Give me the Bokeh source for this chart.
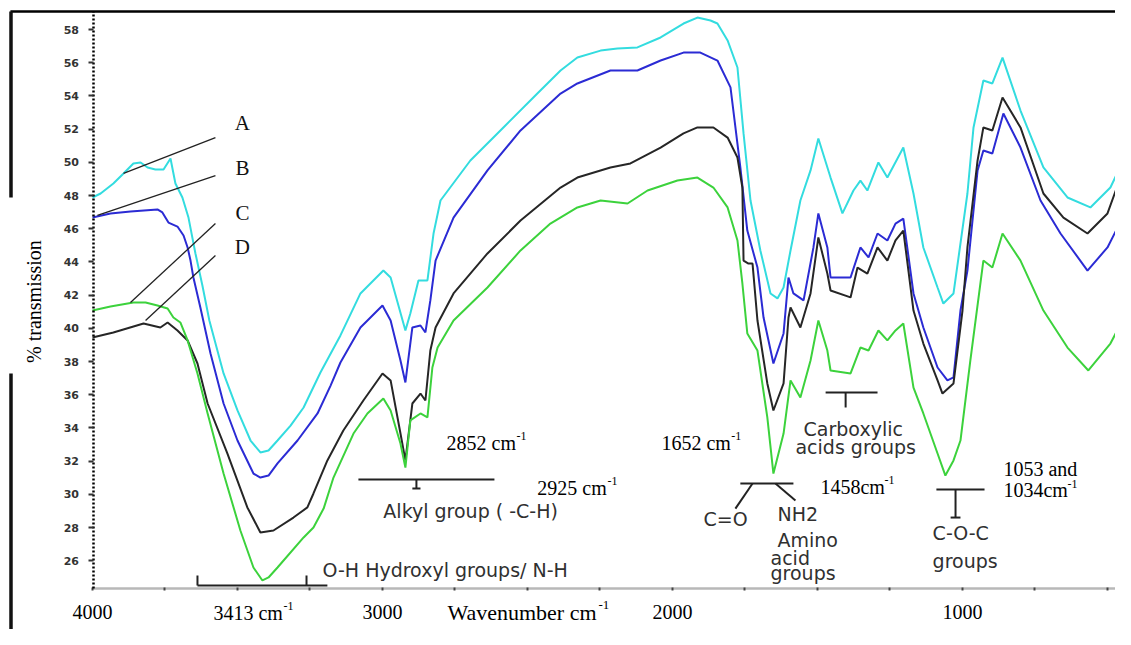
from bokeh.plotting import figure
from bokeh.models import Range1d, LinearAxis, FixedTicker
from bokeh.core.properties import value
from bokeh.embed import file_html
from bokeh.resources import INLINE

# ---------------- data (wavenumber cm-1, % transmission) ----------------
wn_A = [4000, 3972, 3928, 3893, 3859, 3834, 3810, 3783, 3755, 3731, 3714, 3690, 3669, 3645, 3621, 3597,
        3548, 3500, 3455, 3421, 3393, 3362, 3317, 3272, 3214, 3145, 3076, 2997, 2972, 2945, 2921, 2904,
        2876, 2845, 2824, 2800, 2697, 2583, 2466, 2386, 2328, 2248, 2190, 2121, 2041, 1962, 1914, 1869,
        1845, 1810, 1776, 1755, 1731, 1697, 1662, 1638, 1617, 1593, 1559, 1524, 1497, 1455, 1414, 1376,
        1352, 1328, 1290, 1259, 1204, 1169, 1135, 1086, 1066, 1031, 983, 962, 928, 897, 862, 800, 721,
        638, 559, 490, 418]
T_A = [47.88, 48.12, 48.72, 49.33, 49.93, 49.99, 49.69, 49.57, 49.57, 50.23, 48.72, 47.88, 46.67, 44.51,
       42.58, 40.47, 37.28, 35.05, 33.24, 32.52, 32.64, 33.24, 34.14, 35.23, 37.34, 39.57, 42.10, 43.48,
       43.06, 41.37, 39.87, 40.89, 42.88, 42.88, 45.71, 47.70, 50.11, 52.10, 54.14, 55.53, 56.31, 56.73,
       56.86, 56.92, 57.52, 58.36, 58.72, 58.54, 58.36, 57.34, 55.71, 51.74, 47.70, 44.69, 42.10, 41.80,
       42.46, 44.69, 47.70, 49.51, 51.43, 49.08, 46.92, 48.30, 48.90, 48.30, 49.99, 49.08, 50.89, 48.12,
       44.87, 42.46, 41.49, 42.10, 48.12, 52.10, 54.93, 54.75, 56.31, 53.12, 49.69, 47.88, 47.28, 48.48,
       51.13]

wn_B = [4000, 3938, 3869, 3776, 3759, 3738, 3707, 3686, 3672, 3662, 3652, 3628, 3593, 3548, 3500, 3445,
        3421, 3393, 3362, 3293, 3224, 3179, 3145, 3076, 3000, 2972, 2938, 2921, 2897, 2869, 2852, 2835,
        2817, 2755, 2638, 2524, 2386, 2328, 2214, 2121, 2041, 1962, 1904, 1845, 1800, 1766, 1742, 1707,
        1686, 1652, 1617, 1600, 1583, 1548, 1514, 1497, 1466, 1455, 1386, 1352, 1324, 1293, 1259, 1231,
        1204, 1169, 1135, 1086, 1052, 1031, 1007, 983, 948, 928, 897, 859, 800, 731, 662, 569, 500, 418]
T_B = [46.67, 46.92, 47.04, 47.16, 46.98, 46.37, 46.13, 45.59, 44.87, 44.08, 43.06, 41.25, 38.48, 35.47,
       33.24, 31.25, 31.01, 31.13, 31.86, 33.24, 34.87, 36.55, 37.94, 40.05, 41.37, 40.47, 38.06, 36.74,
       40.05, 40.17, 39.75, 41.68, 44.08, 46.67, 49.51, 51.92, 54.14, 54.75, 55.53, 55.53, 56.13, 56.61,
       56.61, 56.13, 54.51, 49.69, 45.89, 43.66, 40.65, 37.88, 39.69, 43.06, 42.10, 41.68, 44.87, 46.92,
       44.87, 43.06, 43.06, 44.87, 44.27, 45.71, 45.29, 46.31, 46.61, 42.10, 40.05, 37.64, 36.86, 37.04,
       41.07, 43.48, 49.51, 50.71, 50.53, 52.94, 50.89, 47.70, 45.71, 43.48, 44.87, 47.70]

wn_C = [4000, 3938, 3859, 3817, 3776, 3741, 3721, 3697, 3672, 3638, 3603, 3548, 3490, 3445, 3414, 3393,
        3362, 3272, 3238, 3203, 3169, 3100, 3052, 2997, 2972, 2938, 2921, 2904, 2869, 2845, 2828, 2810,
        2755, 2638, 2524, 2421, 2328, 2248, 2155, 2086, 1983, 1914, 1859, 1810, 1776, 1759, 1742, 1707,
        1673, 1652, 1617, 1593, 1559, 1524, 1497, 1466, 1455, 1386, 1352, 1324, 1290, 1259, 1231, 1204,
        1169, 1135, 1086, 1059, 1031, 1007, 973, 928, 897, 862, 800, 721, 638, 566, 490, 418]
T_C = [41.07, 41.31, 41.55, 41.55, 41.37, 41.19, 40.65, 40.35, 39.27, 37.28, 34.87, 31.25, 27.82, 25.59,
       24.81, 24.99, 25.59, 27.40, 28.00, 29.14, 31.01, 33.66, 34.87, 35.77, 35.05, 33.06, 31.61, 34.45,
       34.87, 34.63, 37.64, 38.84, 40.47, 42.46, 44.69, 46.31, 47.28, 47.70, 47.52, 48.30, 48.90, 49.08,
       48.48, 47.28, 45.29, 42.70, 39.69, 38.66, 34.63, 31.25, 33.66, 36.86, 35.83, 38.06, 40.47, 38.66,
       37.46, 37.28, 38.84, 38.66, 39.87, 39.27, 39.87, 40.29, 36.43, 34.87, 32.46, 31.13, 32.04, 33.24,
       38.06, 44.08, 43.66, 45.71, 44.08, 41.07, 38.84, 37.46, 39.08, 41.49]

wn_D = [4000, 3928, 3824, 3766, 3741, 3707, 3672, 3638, 3603, 3535, 3466, 3421, 3376, 3307, 3259, 3238,
        3190, 3135, 3066, 3000, 2972, 2938, 2921, 2897, 2869, 2852, 2835, 2817, 2755, 2638, 2524, 2386,
        2328, 2214, 2145, 2041, 1962, 1914, 1859, 1810, 1776, 1759, 1755, 1738, 1724, 1707, 1673, 1652,
        1617, 1600, 1593, 1559, 1524, 1497, 1466, 1455, 1386, 1362, 1328, 1293, 1259, 1231, 1204, 1169,
        1135, 1086, 1069, 1031, 1000, 983, 948, 928, 897, 862, 800, 721, 652, 569, 500, 418]
T_D = [39.45, 39.75, 40.29, 40.05, 40.35, 39.87, 39.27, 37.88, 35.47, 32.46, 29.21, 27.70, 27.82, 28.60,
       29.21, 30.05, 32.04, 33.84, 35.65, 37.28, 36.86, 33.66, 32.04, 35.47, 36.07, 35.65, 38.66, 40.05,
       42.10, 44.51, 46.49, 48.48, 49.08, 49.69, 49.93, 50.89, 51.74, 52.10, 52.10, 51.49, 50.29, 48.48,
       44.08, 43.90, 43.90, 40.47, 36.68, 35.05, 36.68, 40.65, 41.25, 40.05, 42.10, 45.47, 43.30, 42.28,
       41.86, 43.66, 43.30, 44.87, 44.08, 45.29, 45.89, 41.07, 39.08, 36.86, 36.07, 36.68, 41.07, 44.87,
       50.11, 52.10, 51.92, 53.90, 52.10, 48.12, 46.67, 45.71, 46.92, 50.90]

series_colors = ["#33dcdf", "#2b2bd4", "#262626", "#3cd23c"]

y_ticks = [26, 28, 30, 32, 34, 36, 38, 40, 42, 44, 46, 48, 50, 52, 54, 56, 58]
x_ticks = [4000, 3000, 2000, 1000]
x_minor = [3750, 3500, 3250, 2750, 2500, 2250, 1750, 1500, 1250, 750, 500]

# letter labels and their leader lines
letters = ["A", "B", "C", "D"]
letter_x = [3483, 3483, 3483, 3483]
letter_y = [52.34, 49.63, 46.92, 44.87]
lead_x0 = [3893, 3983, 3869, 3817]
lead_y0 = [49.33, 46.80, 41.55, 40.47]
lead_x1 = [3576, 3576, 3576, 3576]
lead_y1 = [51.49, 49.20, 46.31, 44.39]

# Times-style annotations (main text + superscript)
serif_text = ["2852 cm", "2925 cm", "1652 cm", "1458cm", "1053 and", "1034cm", "3413 cm"]
serif_x = [2779, 2466, 2038, 1490, 859, 859, 3583]
serif_y = [33.12, 30.41, 33.12, 30.47, 31.55, 30.23, 22.88]
sup_text = ["-1", "-1", "-1", "-1", "-1", "-1"]
sup_x = [2538, 2224, 1797, 1269, 638, 3341]
sup_y = [33.54, 30.83, 33.54, 30.89, 30.65, 23.30]

# sans (scanned) annotations
sans_text = ["O-H Hydroxyl groups/ N-H", "Alkyl group ( -C-H)", "C=O", "NH2", "Amino", "acid", "groups",
             "Carboxylic", "acids groups", "C-O-C", "groups"]
sans_x = [3207, 2997, 1893, 1638, 1638, 1662, 1662, 1548, 1576, 1103, 1103]
sans_y = [25.47, 29.02, 28.54, 28.84, 27.22, 26.19, 25.23, 33.96, 32.82, 27.64, 26.01]

# bracket segments
br_x0 = [3638, 3638, 3262, 3083, 2883, 2897, 1766, 1724, 1645, 1472, 1403, 1090, 1024, 1041]
br_y0 = [24.51, 25.11, 25.11, 30.89, 30.89, 30.35, 30.65, 30.65, 30.65, 36.13, 36.13, 30.29, 30.29, 28.60]
br_x1 = [3190, 3638, 3262, 2614, 2883, 2869, 1583, 1783, 1576, 1293, 1403, 924, 1024, 1007]
br_y1 = [24.51, 24.51, 24.51, 30.89, 30.35, 30.35, 30.65, 29.14, 29.63, 36.13, 35.23, 30.29, 28.60, 28.60]

# ---------------- figure ----------------
p = figure(width=1115, height=629, output_backend="svg", toolbar_location=None,
           x_range=Range1d(4317.2, 472.4), y_range=Range1d(21.856, 59.747),
           x_axis_location=None, y_axis_location=None, min_border=0)
p.outline_line_color = None
p.xgrid.visible = False
p.ygrid.visible = False
p.background_fill_color = "white"
p.border_fill_color = "white"

# frame pieces of the scanned figure
p.segment(x0=[4283], y0=[59.08], x1=[417], y1=[59.08], line_color="black", line_width=2.5)
p.segment(x0=[4281, 4281], y0=[59.08, 37.28], x1=[4281, 4281], y1=[47.88, 21.0],
          line_color="#111111", line_width=3.5)

# axes
yax = LinearAxis(fixed_location=3995, bounds=(24.33, 59.08),
                 ticker=FixedTicker(ticks=y_ticks, minor_ticks=[]))
yax.axis_line_color = "black"
yax.axis_line_width = 2.5
yax.axis_line_dash = "2 2"
yax.major_tick_in = 0
yax.major_tick_out = 5
yax.major_tick_line_width = 2
yax.major_tick_line_color = "#333333"
yax.major_label_standoff = 10
yax.major_label_text_font = "DejaVu Sans"
yax.major_label_text_font_style = "bold"
yax.major_label_text_font_size = "11px"
yax.major_label_text_color = "#333333"
p.add_layout(yax, "left")

xax = LinearAxis(fixed_location=24.33, bounds=(4000, 472.4),
                 ticker=FixedTicker(ticks=x_ticks, minor_ticks=x_minor))
xax.axis_line_color = "#b8b8b8"
xax.axis_line_width = 2.5
xax.major_tick_in = 1
xax.major_tick_out = 2
xax.major_tick_line_width = 2
xax.major_tick_line_color = "#444444"
xax.minor_tick_in = 1
xax.minor_tick_out = 2
xax.minor_tick_line_width = 2
xax.minor_tick_line_color = "#444444"
xax.major_label_standoff = 15
xax.major_label_text_font = "Liberation Serif"
xax.major_label_text_font_size = "20px"
xax.major_label_text_color = "black"
p.add_layout(xax, "below")

# spectra
for wn, t, c in zip([wn_A, wn_B, wn_D, wn_C], [T_A, T_B, T_D, T_C],
                    [series_colors[0], series_colors[1], series_colors[2], series_colors[3]]):
    p.line(wn, t, line_color=c, line_width=2)

# leader lines + letters
p.segment(x0=lead_x0, y0=lead_y0, x1=lead_x1, y1=lead_y1, line_color="#222222", line_width=1.3)
p.text(x=letter_x, y=letter_y, text=letters, text_font=value("Liberation Serif"),
       text_font_size="21px", text_align="center", text_baseline="middle", text_color="#111111")

# brackets
p.segment(x0=br_x0, y0=br_y0, x1=br_x1, y1=br_y1, line_color="#222222", line_width=2)

# annotations
p.text(x=serif_x, y=serif_y, text=serif_text, text_font=value("Liberation Serif"),
       text_font_size="20px", text_align="left", text_baseline="middle", text_color="black")
p.text(x=sup_x, y=sup_y, text=sup_text, text_font=value("Liberation Serif"),
       text_font_size="12px", text_align="left", text_baseline="middle", text_color="black")
p.text(x=[2776], y=[22.88], text=["Wavenumber cm"], text_font=value("Liberation Serif"),
       text_font_size="22px", text_align="left", text_baseline="middle", text_color="black")
p.text(x=[2255], y=[23.35], text=["-1"], text_font=value("Liberation Serif"),
       text_font_size="13px", text_align="left", text_baseline="middle", text_color="black")
p.text(x=[4203], y=[41.61], text=["% transmission"], angle=1.5708, text_font=value("Liberation Serif"),
       text_font_size="20px", text_align="center", text_baseline="middle", text_color="black")
p.text(x=sans_x, y=sans_y, text=sans_text, text_font=value("DejaVu Sans"),
       text_font_size="19px", text_align="left", text_baseline="middle", text_color="#303030")

open("out.html", "w").write(file_html(p, INLINE))
